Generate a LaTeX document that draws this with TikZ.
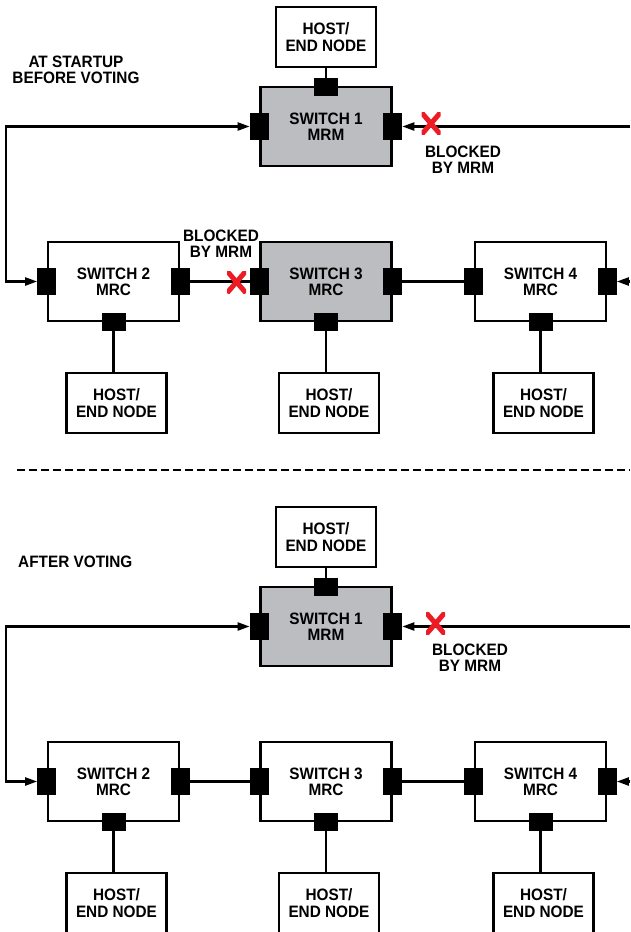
\documentclass[tikz,border=0pt]{standalone}
\usepackage{fontspec}
\setmainfont{Liberation Sans}[FakeStretch=0.93]
\usetikzlibrary{arrows.meta}
\definecolor{swgray}{RGB}{188,189,192}
\definecolor{xred}{RGB}{237,28,36}
\newcommand\dlbl{\fontsize{16.5}{16.3}\selectfont\bfseries}
\tikzset{
  x=1pt, y=-1pt,
  sw/.style={draw, line width=2.3pt, minimum width=131pt, minimum height=79pt, inner sep=0pt, align=center, font=\dlbl},
  swg/.style={sw, fill=swgray},
  host/.style={draw, line width=2.3pt, fill=white, minimum width=100pt, minimum height=60pt, inner sep=0pt, align=center, font=\dlbl},
  vport/.style={fill=black, minimum width=19pt, minimum height=27pt, inner sep=0pt},
  hport/.style={fill=black, minimum width=24pt, minimum height=18pt, inner sep=0pt},
  conn/.style={line width=2.2pt},
  arr/.style={-{Triangle[length=12pt,width=8pt]}},
  darr/.style={{Triangle[length=12pt,width=8pt]}-{Triangle[length=12pt,width=8pt]}},
  redx/.style={minimum width=19pt, minimum height=22pt, inner sep=0pt,
    path picture={\draw[xred, line width=5pt] (path picture bounding box.north west) -- (path picture bounding box.south east) (path picture bounding box.north east) -- (path picture bounding box.south west);}},
  txt/.style={align=center, font=\dlbl, inner sep=0pt}
}
\begin{document}
\begin{tikzpicture}
\clip (0,0) rectangle (630,932);
\fill[white] (0,0) rectangle (630,932);

% ===== TOP HALF =====
\node[txt] (lblA) at (76,70) {AT STARTUP\\BEFORE VOTING};
\node[host] (ah1) at (326,37) {HOST/\\END NODE};
\node[swg] (as1) at (326,126.5) {SWITCH 1\\MRM};
\node[sw]  (as2) at (113.5,281.5) {SWITCH 2\\MRC};
\node[swg] (as3) at (326,281.5) {SWITCH 3\\MRC};
\node[sw]  (as4) at (540.5,281.5) {SWITCH 4\\MRC};
\node[host] (ah2) at (116.5,403) {HOST/\\END NODE};
\node[host] (ah3) at (329,403) {HOST/\\END NODE};
\node[host] (ah4) at (543.5,403) {HOST/\\END NODE};

\node[hport] (as1t) at ([yshift=-1.5pt]as1.north) {};
\node[vport] (as1l) at (as1.west) {};
\node[vport] (as1r) at (as1.east) {};
\foreach \s in {2,3,4}{
  \node[vport] (as\s l) at (as\s.west) {};
  \node[vport] (as\s r) at (as\s.east) {};
  \node[hport] (as\s b) at (as\s.south) {};
}

\coordinate (alc1) at (6,126.5);
\coordinate (alc2) at (6,281.5);
\coordinate (arc1) at (630,126.5);
\coordinate (arc4) at (630,281.5);

\draw[conn] (ah1.south) -- (as1t.north);
\draw[conn, darr] (as1l.west) -- (alc1) -- (alc2) -- (as2l.west);
\draw[conn, arr] (arc1) -- (as1r.east);
\draw[conn, arr] (arc4) -- (as4r.east);
\draw[conn] (as2r.east) -- (as3l.west);
\draw[conn] (as3r.east) -- (as4l.west);
\foreach \s in {2,3,4}{
  \draw[conn] (as\s b.south) -- (as\s b.south |- ah\s.north);
}

\node[redx] (ax1) at (431,123.5) {};
\node[redx] (ax2) at (236.5,282) {};
\node[txt] (ablk1) at (463,160) {BLOCKED\\BY MRM};
\node[txt] (ablk2) at (221,244) {BLOCKED\\BY MRM};

% ===== DIVIDER =====
\coordinate (d1) at (17,470);
\coordinate (d2) at (630,470);
\draw[line width=2.4pt, dash pattern=on 8pt off 4pt] (d1) -- (d2);

% ===== BOTTOM HALF =====
\node[txt, anchor=west] (lblB) at (18,561.5) {AFTER VOTING};
\node[host] (bh1) at (326,537) {HOST/\\END NODE};
\node[swg] (bs1) at (326,626.5) {SWITCH 1\\MRM};
\node[sw]  (bs2) at (113.5,781.5) {SWITCH 2\\MRC};
\node[sw]  (bs3) at (326,781.5) {SWITCH 3\\MRC};
\node[sw]  (bs4) at (540.5,781.5) {SWITCH 4\\MRC};
\node[host] (bh2) at (116.5,903) {HOST/\\END NODE};
\node[host] (bh3) at (329,903) {HOST/\\END NODE};
\node[host] (bh4) at (543.5,903) {HOST/\\END NODE};

\node[hport] (bs1t) at ([yshift=-1.5pt]bs1.north) {};
\node[vport] (bs1l) at (bs1.west) {};
\node[vport] (bs1r) at (bs1.east) {};
\foreach \s in {2,3,4}{
  \node[vport] (bs\s l) at (bs\s.west) {};
  \node[vport] (bs\s r) at (bs\s.east) {};
  \node[hport] (bs\s b) at (bs\s.south) {};
}

\coordinate (blc1) at (6,626.5);
\coordinate (blc2) at (6,781.5);
\coordinate (brc1) at (630,626.5);
\coordinate (brc4) at (630,781.5);

\draw[conn] (bh1.south) -- (bs1t.north);
\draw[conn, darr] (bs1l.west) -- (blc1) -- (blc2) -- (bs2l.west);
\draw[conn, arr] (brc1) -- (bs1r.east);
\draw[conn, arr] (brc4) -- (bs4r.east);
\draw[conn] (bs2r.east) -- (bs3l.west);
\draw[conn] (bs3r.east) -- (bs4l.west);
\foreach \s in {2,3,4}{
  \draw[conn] (bs\s b.south) -- (bs\s b.south |- bh\s.north);
}

\node[redx] (bx1) at (435.5,623.5) {};
\node[txt] (bblk1) at (470,658) {BLOCKED\\BY MRM};
\end{tikzpicture}
\end{document}
